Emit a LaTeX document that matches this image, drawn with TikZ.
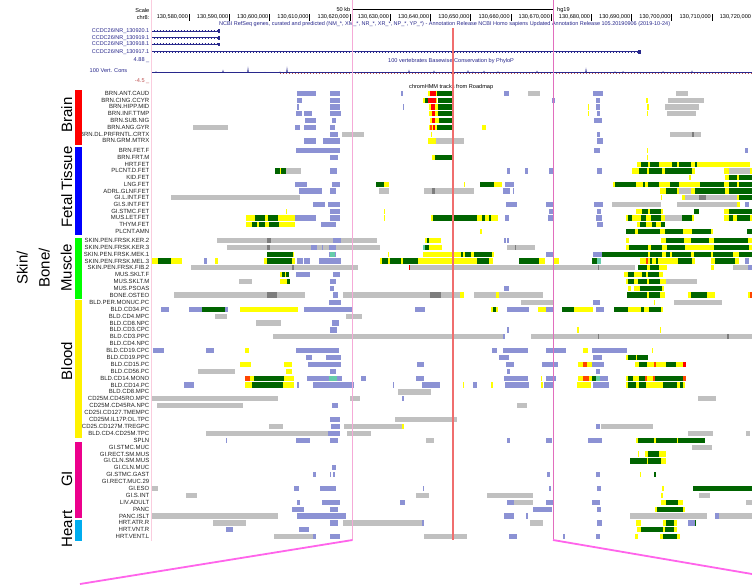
\documentclass[tikz,border=0pt]{standalone}
\usepackage{fontspec}
\setmainfont{Liberation Sans}
\definecolor{colp}{RGB}{140,146,212}
\definecolor{colg}{RGB}{192,192,192}
\definecolor{cold}{RGB}{125,125,125}
\definecolor{coly}{RGB}{255,255,0}
\definecolor{coln}{RGB}{0,100,0}
\definecolor{colr}{RGB}{255,0,0}
\definecolor{colo}{RGB}{255,69,0}
\definecolor{colt}{RGB}{102,205,170}
\definecolor{genec}{RGB}{40,40,140}
\definecolor{labc}{RGB}{35,35,35}
\definecolor{hlpink}{RGB}{245,170,215}
\definecolor{hlpink2}{RGB}{225,110,190}
\definecolor{diagc}{RGB}{255,100,235}
\definecolor{bordc}{RGB}{250,205,222}
\definecolor{redln}{RGB}{240,110,110}
\definecolor{dipc}{RGB}{190,80,80}
\def\rowy{{93.3,100.1,106.9,113.7,120.5,127.3,134.1,140.9,150.7,157.4,164.1,170.9,177.6,184.3,191.0,197.7,204.5,211.2,217.9,224.6,231.3,240.6,247.4,254.2,261.0,267.8,274.6,281.4,288.2,295.0,302.3,309.2,316.1,323.0,329.9,336.8,343.7,350.6,357.5,364.4,371.2,378.1,385.0,391.9,398.8,405.7,412.6,419.5,426.4,433.3,440.2,447.1,454.0,460.9,467.8,474.7,481.6,488.5,495.4,502.2,509.1,516.0,522.9,529.8,536.7}}
\newcommand\blocks[2]{\pgfmathsetmacro\yc{\rowy[#1]}\foreach \a/\b/\c in {#2}{\fill[fill=col\c] (\a,\yc-2.6) rectangle (\b,\yc+2.6);}}
\newcommand\fa{\fontsize{5.6}{6}\selectfont}
\begin{document}
\begin{tikzpicture}[x=1pt,y=-1pt,
  lbl/.style={anchor=east,inner sep=0,font=\fontsize{6}{6}\selectfont,text=labc},
  hdr/.style={inner sep=0,font=\fa},
  grp/.style={rotate=90,anchor=base,inner sep=0,font=\fontsize{15}{18}\selectfont}]
\useasboundingbox[fill=white] (0,0) rectangle (752,584);
% ---------- header ----------
\node[hdr,anchor=east] (scale) at (149.5,10) {Scale};
\node[hdr,anchor=east] (chr) at (149.5,17.3) {chr8:};
\node[hdr,anchor=east] (kb) at (350.5,9.3) {50 kb};
\node[hdr,anchor=west] (hg) at (557,9.8) {hg19};
\draw[line width=0.5] (352.5,9) -- (553,9);
\draw[line width=0.5] (352.5,6.5) -- (352.5,11.5);
\draw[line width=0.5] (553,6.5) -- (553,11.5);
\foreach \k in {0,...,14}{
  \pgfmathsetmacro\tx{189+40.22*\k}
  \pgfmathtruncatemacro\num{580+10*\k}
  \draw[line width=0.5] (\tx,14) -- (\tx,20.5);
  \node[hdr,anchor=east] (ruler\k) at (\tx-0.9,17.3) {130,\num,000};
}
\node[hdr,anchor=west,text=genec,font=\fontsize{5.5}{6}\selectfont] (ncbi) at (219,24.5) {NCBI RefSeq genes, curated and predicted (NM\_*, XM\_*, NR\_*, XR\_*, NP\_*, YP\_*) - Annotation Release NCBI Homo sapiens Updated Annotation Release 105.20190906 (2019-10-24)};
\foreach \gy/\gn/\ge in {31/130920.1/219,37.7/130919.1/219,44.3/130918.1/219,51.7/130917.1/640}{
  \node[hdr,anchor=east,text=genec,font=\fontsize{5.5}{6}\selectfont] (gene\gn) at (149.5,\gy) {CCDC26/NR\_\gn};
  \draw[genec,line width=0.45] (152,\gy) -- (\ge,\gy);
  \draw[genec,line width=2.2,dash pattern=on 0.4pt off 2.6pt] (153.5,\gy) -- (\ge,\gy);
}
\fill[genec] (218.4,29.2) rectangle (219.6,32.8);
\fill[genec] (218.4,35.9) rectangle (219.6,39.5);
\fill[genec] (218.4,42.5) rectangle (219.6,46.1);
\fill[genec] (638,49.5) rectangle (641,54);
% conservation track
\node[hdr,anchor=east,text=genec] (cmax) at (149.5,59.7) {4.88 \_};
\node[hdr,anchor=east,text=genec] (cname) at (127.5,70.3) {100 Vert. Cons};
\node[hdr,anchor=east,text=dipc] (cmin) at (149.5,80.7) {-4.5 \_};
\node[hdr,anchor=west,text=genec] (phylo) at (388,61) {100 vertebrates Basewise Conservation by PhyloP};
\draw[dipc,line width=0.6,dash pattern=on 1pt off 2pt] (280,73.3) -- (752,73.3);
\draw[genec,line width=0.45] (152,72.6) -- (752,72.6);
\foreach \px/\ph in {156/1.5,175/0.8,200/0.6,223/3,248/6,265/0.8,280/1.2,287/6,300/0.8,320/0.7,409/3,434/2.2,453/2.5,468/2.6,473/1.2,484/2,498/1.5,537/2,586/5,615/1.5,623/1.6,640/0.8,663/1.6,692/2.2,720/0.8}{
  \fill[genec] (\px-0.8,72.6) -- (\px,72.6-\ph) -- (\px+0.8,72.6) -- cycle;
}
\node[hdr,anchor=west,text=black] (hmm) at (409,87.3) {chromHMM tracks from Roadmap};
% ---------- row labels ----------
\begin{scope}
\clip (82.5,85) rectangle (151,545);
\foreach \i/\t in {0/BRN.ANT.CAUD,1/BRN.CING.CCYR,2/BRN.HIPP.MID,3/BRN.INF.TTMP,4/BRN.SUB.NIG,5/BRN.ANG.GYR,6/BRN.DL.PRFRNTL.CRTX,7/BRN.GRM.MTRX,8/BRN.FET.F,9/BRN.FRT.M,10/HRT.FET,11/PLCNT.D.FET,12/KID.FET,13/LNG.FET,14/ADRL.GLNF.FET,15/GI.L.INT.FET,16/GI.S.INT.FET,17/GI.STMC.FET,18/MUS.LET.FET,19/THYM.FET,20/PLCNT.AMN,21/SKIN.PEN.FRSK.KER.2,22/SKIN.PEN.FRSK.KER.3,23/SKIN.PEN.FRSK.MEK.1,24/SKIN.PEN.FRSK.MEL.3,25/SKIN.PEN.FRSK.FIB.2,26/MUS.SKLT.F,27/MUS.SKLT.M,28/MUS.PSOAS,29/BONE.OSTEO,30/BLD.PER.MONUC.PC,31/BLD.CD34.PC,32/BLD.CD4.MPC,33/BLD.CD8.NPC,34/BLD.CD3.CPC,35/BLD.CD3.PPC,36/BLD.CD4.NPC,37/BLD.CD19.CPC,38/BLD.CD19.PPC,39/BLD.CD15.PC,40/BLD.CD56.PC,41/BLD.CD14.MONO,42/BLD.CD14.PC,43/BLD.CD8.MPC,44/CD25M.CD45RO.MPC,45/CD25M.CD45RA.NPC,46/CD25I.CD127.TMEMPC,47/CD25M.IL17P.OL.TPC,48/CD25.CD127M.TREGPC,49/BLD.CD4.CD25M.TPC,50/SPLN,51/GI.STMC.MUC,52/GI.RECT.SM.MUS,53/GI.CLN.SM.MUS,54/GI.CLN.MUC,55/GI.STMC.GAST,56/GI.RECT.MUC.29,57/GI.ESO,58/GI.S.INT,59/LIV.ADULT,60/PANC,61/PANC.ISLT,62/HRT.ATR.R,63/HRT.VNT.R,64/HRT.VENT.L}{
  \pgfmathsetmacro\yc{\rowy[\i]}
  \node[lbl] (L\i) at (149.5,\yc) {\t};
}
\end{scope}
% group bars
\fill[red] (75.3,90) rectangle (82,144.5);
\fill[blue] (75.3,146.5) rectangle (82,235);
\fill[green] (75.3,237.5) rectangle (82,298.5);
\fill[yellow] (75.3,300) rectangle (82,437.5);
\fill[magenta] (75.3,442) rectangle (82,518);
\fill[cyan] (75.3,520) rectangle (82,541);
% group labels
\node[grp] (gBrain) at (72,115) {Brain};
\node[grp] (gFetal) at (72,187) {Fetal Tissue};
\node[grp] (gSkin) at (27.5,268) {Skin/};
\node[grp] (gBone) at (49.5,268) {Bone/};
\node[grp] (gMuscle) at (71.5,268) {Muscle};
\node[grp] (gBlood) at (72,361) {Blood};
\node[grp] (gGI) at (72,479) {GI};
\node[grp] (gHeart) at (72,529) {Heart};
% ---------- chromHMM blocks ----------
\blocks{0}{297/316/p,330/340/p,401/403/p,428/437/y,430/436/r,437/452/n,504/509/p,528/540/g,593/603/p,676/688/g}
\blocks{1}{297/302/p,330/340/p,423/437/y,425/428/n,428/436/r,438/452/n,552/555/p,596/600/p,646/648/y,668/704/g}
\blocks{2}{297/299/p,330/340/p,403/404/p,429/438/y,431/435/r,438/452/n,588/589/y,596/600/p,647/649/y,665/699/g}
\blocks{3}{296/302/p,304/312/p,330/341/p,429/438/y,432/435/r,438/452/n,588/589/y,597/600/p,647/648/y,667/696/g}
\blocks{4}{305/316/p,332/336/p,430/439/y,432/435/r,439/452/n,594/602/p}
\blocks{5}{193/228/g,295/300/p,304/316/p,330/335/p,429/437/y,430/432/o,433/435/r,437/452/n,482/486/y}
\blocks{6}{330/338/p,342/364/g,431/432/y,597/600/p,670/701/g,692/694/d}
\blocks{7}{304/316/p,323/340/p,428/436/y,436/464/g,597/603/p}
\blocks{8}{296/340/p,594/600/p,647/648/y,745/748/p}
\blocks{9}{330/338/p,432/452/y,435/452/n,647/648/y}
\blocks{10}{637/750/y,641/648/n,650/659/n,672/677/n,679/691/n,695/697/n}
\blocks{11}{275/286/y,275/280/n,281/286/n,286/301/g,330/337/p,507/510/p,525/528/p,549/553/p,597/602/p,632/695/y,639/647/n,649/662/n,665/692/n,724/752/y,729/750/g}
\blocks{12}{689/691/y,725/752/y,729/737/n,739/752/n}
\blocks{13}{295/307/p,332/340/p,376/389/y,376/384/n,464/465/y,480/502/y,480/494/n,505/514/p,613/752/y,615/636/n,643/645/n,648/659/n,670/679/n,700/724/n,729/737/n,739/752/n}
\blocks{14}{299/322/p,330/336/p,379/389/g,424/474/g,432/435/d,503/510/p,513/514/p,660/752/y,666/677/n,679/691/g,695/725/n,729/752/n}
\blocks{15}{171/300/g,661/662/y,682/737/y,685/699/g,699/706/d,706/737/g,737/752/y,739/752/n}
\blocks{16}{313/325/p,328/340/p,506/517/p,546/553/p,594/603/p,612/661/g,677/737/g,737/740/y,745/749/p}
\blocks{17}{286/287/y,330/340/p,384/385/y,549/553/p,597/601/p,636/663/y,642/648/n,650/661/n,694/699/n,724/752/y,729/752/n}
\blocks{18}{246/295/y,255/265/n,268/278/n,295/316/p,330/340/p,384/385/y,431/498/y,433/477/n,482/485/n,489/491/n,505/509/p,548/554/p,596/602/p,626/665/y,628/632/n,641/646/n,651/661/n,665/682/g,682/692/n,692/694/y,724/752/y,729/733/n,737/750/n}
\blocks{19}{246/295/y,252/257/n,259/265/n,269/279/n,321/336/p,597/603/p,637/665/y,640/646/n,652/656/n,661/665/n}
\blocks{20}{480/482/y,626/713/y,626/635/n,638/660/n,665/683/n,692/711/n,747/752/n}
\blocks{21}{217/377/g,267/271/d,333/341/p,425/441/y,427/429/n,504/506/p,507/509/p,626/629/y,661/752/y,666/684/n,691/709/n,714/748/n}
\blocks{22}{227/380/g,267/270/d,311/317/p,322/323/p,329/336/p,423/442/y,423/425/t,425/429/n,507/535/g,515/516/d,626/752/y,629/648/n,651/662/n,667/685/n,714/749/n}
\blocks{23}{267/294/y,267/293/n,329/336/p,330/335/t,388/389/y,423/494/y,461/463/n,465/471/n,474/492/n,546/553/p,593/602/p,602/752/y,602/648/n,650/662/n,666/670/n,672/691/n,694/711/n,713/733/n,739/752/n}
\blocks{24}{152/182/y,158/171/n,204/207/p,215/218/y,264/295/y,267/292/n,297/303/p,304/310/p,319/341/p,380/493/y,382/388/n,390/401/n,403/418/n,477/489/n,519/545/y,519/539/n,554/559/y,592/597/n,597/601/t,640/695/y,646/648/o,650/652/n,656/658/n,678/692/n,711/739/y,715/735/n,745/749/p}
\blocks{25}{191/358/g,292/294/d,409/410/r,410/635/g,598/599/d,638/667/y,638/647/n,650/659/n,711/714/y,733/748/g,748/752/p}
\blocks{26}{280/289/y,282/285/n,286/289/n,296/310/p,333/340/p,624/663/y,628/634/n,642/646/n,648/659/n}
\blocks{27}{239/252/g,280/290/y,287/290/n,330/336/p,626/666/y,628/634/n,638/647/n,649/660/n,666/697/g}
\blocks{28}{330/334/p,504/509/p,628/631/y,634/664/y,640/662/n}
\blocks{29}{174/305/g,267/277/d,333/338/p,343/460/g,430/441/d,460/464/y,474/496/g,496/499/y,499/543/g,627/665/y,627/647/n,649/660/n,688/715/y,691/707/n,748/750/y,750/752/o}
\blocks{30}{329/341/p,521/554/g,593/600/p,654/655/y,674/722/g}
\blocks{31}{161/169/p,189/202/p,202/225/n,225/228/p,240/298/y,304/353/p,415/425/p,491/498/y,493/496/n,507/529/p,538/546/y,546/553/p,562/593/y,562/574/n,596/604/p,614/663/y,614/628/n,641/644/n,649/661/n}
\blocks{32}{215/227/g,346/362/g}
\blocks{33}{256/281/g,332/339/p}
\blocks{34}{330/337/p,507/509/p,577/579/y,660/661/y}
\blocks{35}{273/503/g,503/505/p,531/752/g,598/599/d,727/729/d}
\blocks{37}{153/164/p,206/214/p,245/249/y,296/339/p,492/497/p,503/528/p,546/566/p,583/588/y,592/627/p,652/653/y}
\blocks{38}{306/312/p,326/341/p,499/509/p,593/602/p,626/648/y,628/636/n,637/648/n}
\blocks{39}{240/251/y,284/292/y,308/341/p,417/424/p,506/514/p,542/558/p,578/592/y,583/587/o,592/604/p,635/686/y,639/647/n,654/656/o,666/676/n,683/686/r}
\blocks{40}{198/235/g,286/292/y,330/336/p,507/510/p,596/600/p}
\blocks{41}{245/294/y,245/250/o,254/284/n,307/329/p,329/337/t,337/342/p,361/366/p,416/424/p,504/528/p,541/542/y,546/556/p,578/592/y,583/589/o,592/596/n,596/600/t,600/608/p,626/686/y,628/633/n,639/645/n,645/647/o,653/655/o,655/683/n,683/686/o}
\blocks{42}{184/194/p,245/294/y,252/283/n,297/299/p,313/354/p,393/394/p,422/440/p,463/464/y,473/477/p,491/493/y,505/529/p,541/543/y,544/554/p,577/591/y,593/609/p,626/685/y,628/636/n,639/646/n,663/677/n,680/683/n}
\blocks{43}{398/431/g}
\blocks{44}{152/278/g,350/360/g,402/404/p,698/716/g}
\blocks{45}{157/243/g,332/338/p,517/527/g}
\blocks{47}{330/340/p,395/457/g}
\blocks{48}{269/283/g,331/340/p,344/402/g,402/404/y,596/600/p,601/653/g}
\blocks{49}{206/330/g,328/340/p,347/371/g,688/713/g,746/750/g}
\blocks{50}{226/227/p,296/310/p,330/338/p,426/434/g,507/510/p,546/552/p,588/602/p,636/705/y,638/654/n,656/677/n,678/705/n}
\blocks{51}{692/712/g}
\blocks{52}{638/639/y,645/666/y,648/659/n}
\blocks{53}{630/666/y,630/647/n,648/661/n}
\blocks{54}{332/336/p}
\blocks{55}{313/316/p,330/331/p,333/335/p,547/550/p,596/600/p,640/641/y,654/656/n}
\blocks{57}{152/158/g,294/299/p,320/336/p,423/424/p,549/551/p,597/601/p,662/664/y,693/752/n}
\blocks{58}{186/197/g,416/429/g,487/533/g,661/663/y,699/710/g}
\blocks{59}{297/300/p,322/340/p,400/405/p,507/514/p,514/533/g,546/553/p,592/600/p,661/683/y,666/678/n,746/752/g}
\blocks{60}{292/304/p,330/338/p,533/552/p,597/601/p,655/685/y,657/683/n}
\blocks{61}{152/278/g,297/346/p,504/514/p,526/528/p,630/707/g,715/719/p,719/752/g}
\blocks{62}{213/246/g,330/338/p,343/423/g,422/424/p,530/543/g,597/602/p,636/641/y,663/677/y,666/674/n,688/695/p,695/696/n}
\blocks{63}{226/233/p,299/309/p,637/677/y,641/663/n,665/674/n}
\blocks{64}{274/313/g,313/316/p,330/340/p,424/467/g,509/517/p,563/565/p,596/600/p,635/638/y,660/680/y,663/677/n}
% ---------- highlight lines ----------
\coordinate (lt) at (352.5,0);
\coordinate (lb) at (352.5,540);
\coordinate (rt) at (553,0);
\coordinate (rb) at (553,540);
\coordinate (ld) at (80,584);
\coordinate (rd) at (752,574);
\draw[bordc,line width=0.7] (151,0) -- (151,541);
\draw[hlpink,line width=1.6] (lt) -- (lb);
\draw[hlpink2,line width=0.8] (rt) -- (rb);
\draw[redln,line width=2] (453,28) -- (453,540);
\draw[diagc,line width=1.8] (lb) -- (ld);
\draw[diagc,line width=1.8] (rb) -- (rd);
\end{tikzpicture}
\end{document}
